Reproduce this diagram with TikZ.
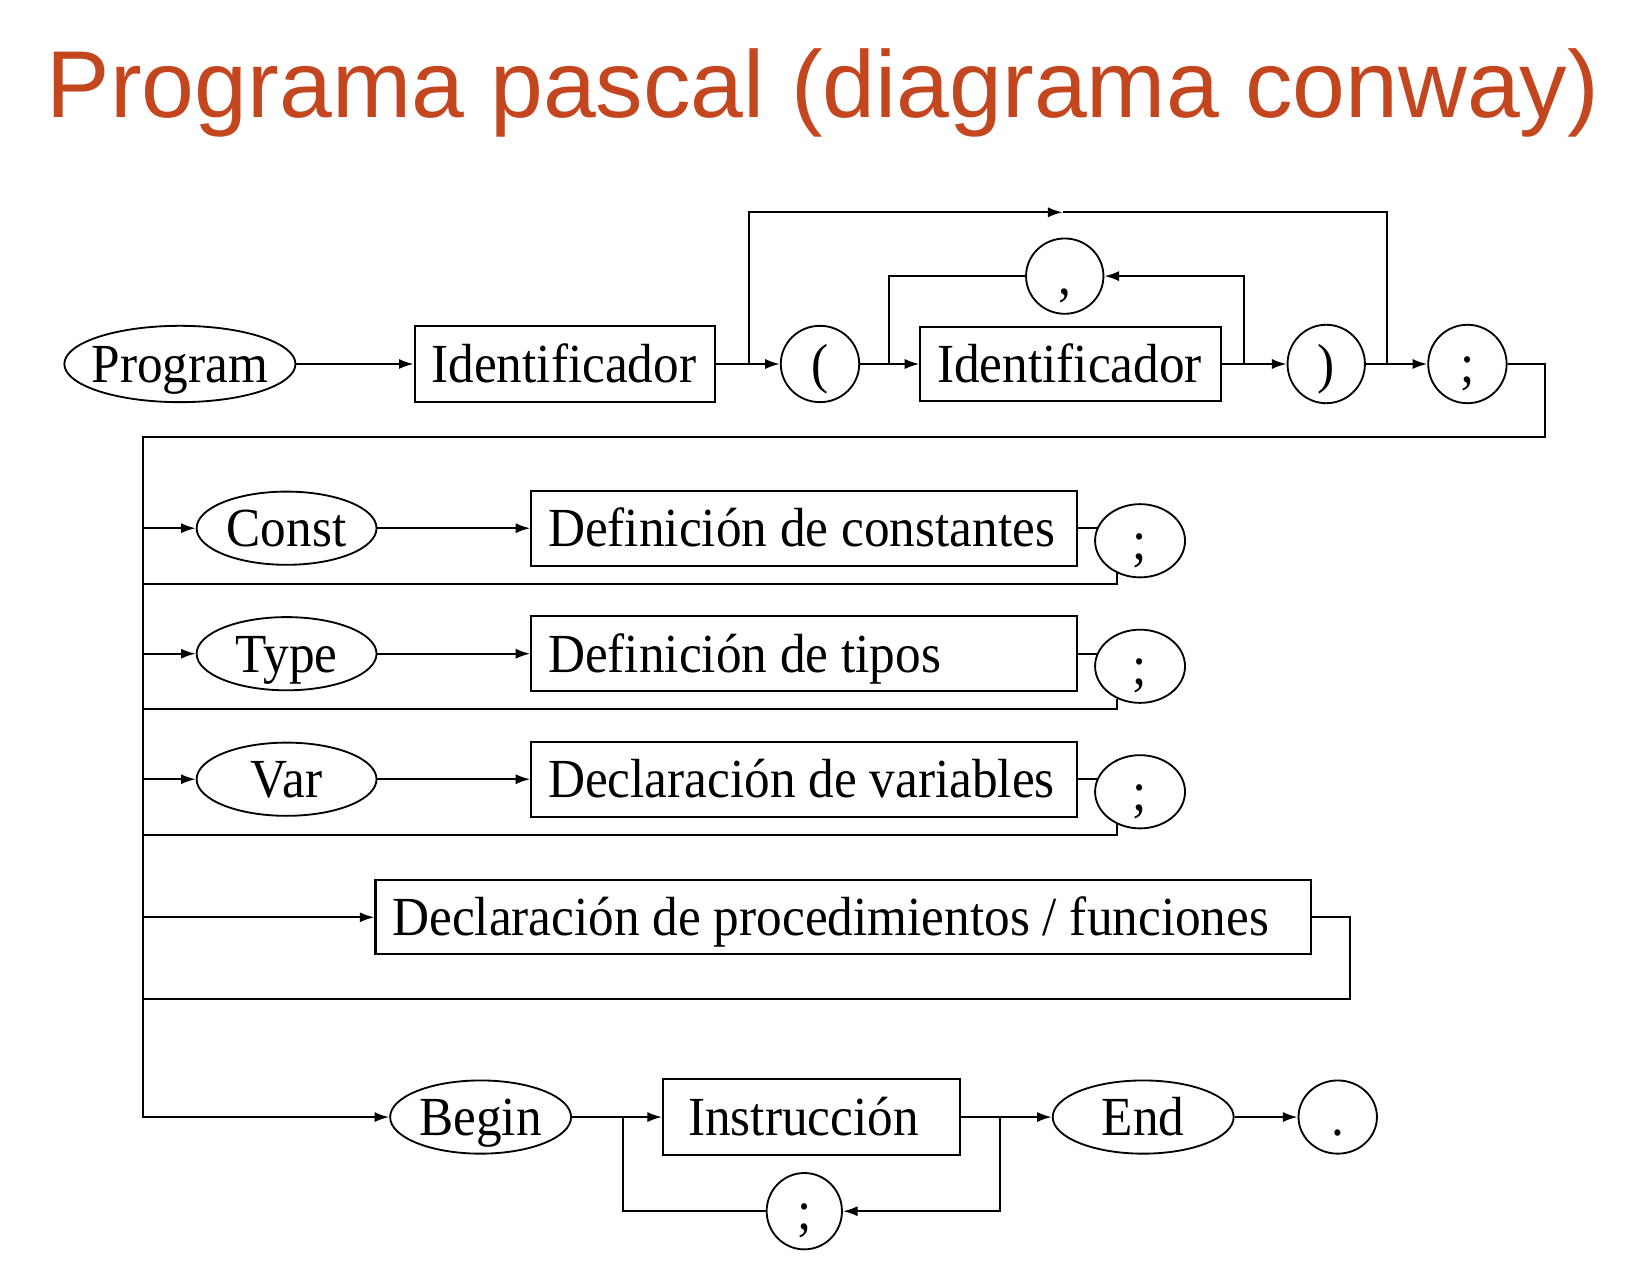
\documentclass[tikz,border=0pt]{standalone}
\usepackage{fontspec}
\setmainfont{Liberation Serif}
\newfontfamily\titlefont{Liberation Sans}
\newfontfamily\diagfont[FakeStretch=0.93]{Liberation Serif}
\usetikzlibrary{shapes.geometric,arrows.meta}
\definecolor{titlecol}{RGB}{196,70,30}
\newcommand{\lbox}[2]{\makebox[\dimexpr 0.02cm*#1\relax][l]{#2}}
\begin{document}
\begin{tikzpicture}[x=0.02cm,y=-0.02cm,
  diag/.style={font=\diagfont\fontsize{30}{30}\selectfont, text height=24pt, text depth=4pt, inner sep=0pt},
  sz/.style 2 args={minimum width=#1*0.02cm, minimum height=#2*0.02cm},
  kw/.style={diag, draw, ellipse, line width=1pt, inner xsep=-8pt},
  nt/.style={diag, draw, rectangle, line width=1.1pt, inner xsep=16*0.02cm},
  ln/.style={line width=1.1pt},
  arr/.style={ln, -{Latex[length=8pt,width=5.5pt]}},
]
\useasboundingbox (0,0) rectangle (1568,1228);

% title
\node[font=\titlefont\fontsize{51.7}{60}\selectfont, text=titlecol, anchor=base, inner sep=0pt] (title) at (787,112) {Programa pascal (diagrama conway)};

% row 1
\node[kw, sz={221}{73}] (prog) at (172,348) {Program};
\node[nt, sz={287}{72}] (id1) at (540,348) {\lbox{255}{Identificador}};
\node[kw, sz={75}{73}] (lp) at (784,348) {(};
\node[kw, sz={74}{72}] (comma) at (1018,264) {,};
\node[nt, sz={287}{71}] (id2) at (1023.5,348) {\lbox{255}{Identificador}};
\node[kw, sz={74}{75}] (rp) at (1268,348) {)};
\node[kw, sz={75}{75}] (sc1) at (1403,348) {;};

% rows const / type / var
\node[kw, sz={172}{70}] (const) at (274,505) {Const};
\node[nt, sz={522}{72}] (dc) at (769,505) {\lbox{490}{Definición de constantes}};
\node[kw, sz={86}{70}] (sc2) at (1090,517) {;};

\node[kw, sz={172}{70}] (type) at (274,625) {Type};
\node[nt, sz={522}{72}] (dt) at (769,625) {\lbox{490}{Definición de tipos}};
\node[kw, sz={86}{70}] (sc3) at (1090,637) {;};

\node[kw, sz={172}{70}] (var) at (274,745) {Var};
\node[nt, sz={522}{72}] (dv) at (769,745) {\lbox{490}{Declaración de variables}};
\node[kw, sz={86}{70}] (sc4) at (1090,757) {;};

% procedures
\node[nt, sz={894}{71}] (proc) at (806,877) {\lbox{862}{Declaración de procedimientos / funciones}};

% begin row
\node[kw, sz={173}{70}] (begin) at (459.5,1068) {Begin};
\node[nt, sz={284}{72}, inner xsep=24*0.02cm] (instr) at (776,1068) {\lbox{236}{Instrucción}};
\node[kw, sz={72}{73}] (sc5) at (769,1158) {;};
\node[kw, sz={173}{70}] (end) at (1093,1068) {End};
\node[kw, sz={75}{70}] (dot) at (1279,1068) {.};

% coordinates
\coordinate (b1) at (716,348);
\coordinate (t1) at (716,203);
\coordinate (tm) at (1016,203);
\coordinate (t2) at (1326,203);
\coordinate (b2) at (1326,348);
\coordinate (b3) at (850,348);
\coordinate (b4) at (1189,348);
\coordinate (r1) at (1477,348);
\coordinate (r2) at (1477,418);
\coordinate (r3) at (137,418);
\coordinate (r4) at (137,1068);
\coordinate (v2) at (137,505);
\coordinate (v3) at (137,625);
\coordinate (v4) at (137,745);
\coordinate (v5) at (137,877);
\coordinate (w2) at (137,558);
\coordinate (w3) at (137,678);
\coordinate (w4) at (137,798);
\coordinate (p1) at (1291,877);
\coordinate (p2) at (1291,955);
\coordinate (p3) at (137,955);
\coordinate (b5) at (596,1068);
\coordinate (b6) at (956,1068);

% row 1 connectors
\draw[arr] (prog) -- (id1);
\draw[arr] (id1) -- (lp);
\draw[arr] (b1) -- (t1) -- (tm);
\draw[ln] (tm) -- (t2) -- (b2);
\draw[arr] (lp) -- (id2);
\draw[ln] (b3) |- (comma);
\draw[arr] (id2) -- (rp);
\draw[arr] (b4) |- (comma);
\draw[arr] (rp) -- (sc1);
\draw[arr] (sc1.east) -- (r1) -- (r2) -- (r3) -- (r4) -- (begin);

% declaration rows
\draw[arr] (v2) -- (const);
\draw[arr] (const) -- (dc);
\draw[ln] (dc.east) -- (dc.east -| sc2.163.5);
\draw[ln] (sc2.234) |- (w2);

\draw[arr] (v3) -- (type);
\draw[arr] (type) -- (dt);
\draw[ln] (dt.east) -- (dt.east -| sc3.163.5);
\draw[ln] (sc3.234) |- (w3);

\draw[arr] (v4) -- (var);
\draw[arr] (var) -- (dv);
\draw[ln] (dv.east) -- (dv.east -| sc4.163.5);
\draw[ln] (sc4.234) |- (w4);

\draw[arr] (v5) -- (proc);
\draw[ln] (proc.east) -- (p1) -- (p2) -- (p3);

% begin row
\draw[arr] (begin) -- (instr);
\draw[ln] (b5) |- (sc5);
\draw[arr] (instr) -- (end);
\draw[arr] (b6) |- (sc5);
\draw[arr] (end) -- (dot);
\end{tikzpicture}
\end{document}
